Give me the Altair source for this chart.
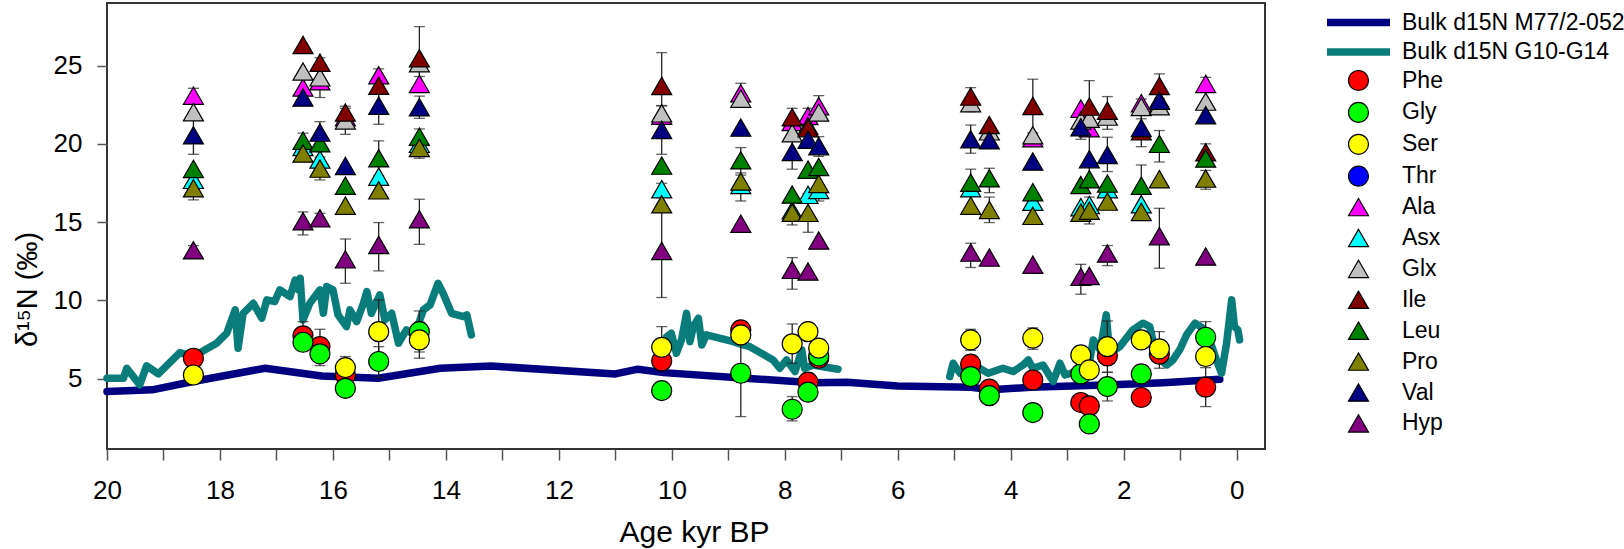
import altair as alt
import pandas as pd

FONT = "Liberation Sans"

# ---------------- amino acid legend definitions ----------------
AA_NAMES = ["Phe", "Gly", "Ser", "Thr", "Ala", "Asx", "Glx", "Ile", "Leu", "Pro", "Val", "Hyp"]
AA_COLORS = ["#ff0000", "#00ff00", "#ffff00", "#0000ff", "#ff00ff", "#00ffff",
             "#c0c0c0", "#800000", "#008000", "#808000", "#000080", "#800080"]
AA_SHAPES = ["circle"] * 4 + ["triangle-up"] * 8
AA_OUTLINE = ["black"] * 12

# ---------------- amino acid d15N values (age kyr BP, value) ----------------
PHE = [(18.47, 6.3), (16.53, 7.73), (16.23, 7.04), (15.78, 5.23), (10.18, 6.13), (8.78, 8.11),
       (7.59, 4.77), (7.4, 6.3), (4.71, 5.92), (4.38, 4.32), (3.61, 4.91), (2.76, 3.47),
       (2.61, 3.25), (2.29, 6.45), (1.69, 3.79), (1.37, 6.56), (0.55, 4.45)]
GLY = [(16.53, 7.32), (16.23, 6.58), (15.78, 4.38), (15.19, 6.09), (14.47, 8.0), (10.18, 4.23),
       (8.78, 5.34), (7.87, 3.04), (7.59, 4.13), (7.4, 6.45), (4.71, 5.13), (4.38, 3.91),
       (3.61, 2.83), (2.76, 5.3), (2.61, 2.1), (2.29, 4.49), (1.69, 5.3), (0.55, 7.64)]
SER = [(18.47, 5.23), (15.78, 5.7), (15.19, 8.0), (14.47, 7.47), (10.18, 7.0), (8.78, 7.79),
       (7.87, 7.22), (7.59, 8.0), (7.4, 6.94), (4.71, 7.47), (3.61, 7.58), (2.76, 6.51),
       (2.61, 5.55), (2.29, 7.04), (1.69, 7.47), (1.37, 6.9), (0.55, 6.41)]
THR = []
ALA = [(18.47, 23.08), (16.53, 23.6), (16.23, 24.0), (15.78, 21.7), (15.19, 24.38), (14.47, 23.83),
       (10.18, 21.8), (8.78, 23.23), (7.87, 21.4), (7.59, 21.78), (7.4, 22.4), (3.61, 20.36),
       (2.76, 22.25), (2.61, 21.0), (1.69, 22.6), (1.37, 22.8), (0.55, 23.83)]
ASX = [(18.47, 17.7), (16.53, 19.8), (16.23, 19.0), (15.19, 17.9), (14.47, 20.0), (10.18, 17.1),
       (8.78, 17.37), (7.87, 15.75), (7.59, 16.74), (7.4, 17.05), (4.71, 17.16), (3.61, 16.3),
       (2.76, 15.95), (2.61, 16.1), (2.29, 17.1), (1.69, 16.14)]
GLX = [(18.47, 22.02), (16.53, 24.62), (16.23, 24.25), (15.78, 21.5), (14.47, 25.15), (10.18, 21.95),
       (8.78, 22.89), (7.87, 20.68), (7.59, 21.14), (7.4, 22.0), (4.71, 22.6), (4.38, 20.8),
       (3.61, 20.55), (2.76, 21.5), (2.61, 21.6), (2.29, 21.74), (1.69, 22.36), (1.37, 22.4),
       (0.55, 22.7)]
ILE = [(16.53, 26.32), (16.23, 25.19), (15.78, 22.0), (15.19, 23.72), (14.47, 25.47), (10.18, 23.7),
       (7.87, 21.7), (7.59, 21.0), (4.71, 23.02), (4.38, 21.2), (3.61, 22.42), (2.61, 22.38),
       (2.29, 22.12), (1.69, 20.8), (1.37, 23.7), (0.55, 19.46)]
LEU = [(18.47, 18.4), (16.53, 20.2), (16.23, 20.04), (15.78, 17.33), (15.19, 19.08), (14.47, 20.46),
       (10.18, 18.61), (8.78, 18.95), (7.87, 16.76), (7.59, 18.35), (7.4, 18.52), (4.71, 17.52),
       (4.38, 17.8), (3.61, 16.91), (2.76, 17.37), (2.61, 17.74), (2.29, 17.46), (1.69, 17.33),
       (1.37, 20.0), (0.55, 19.06)]
PRO = [(18.47, 17.16), (16.53, 19.38), (16.23, 18.42), (15.78, 16.05), (15.19, 17.03), (14.47, 19.74),
       (10.18, 16.14), (8.78, 17.59), (7.87, 15.6), (7.59, 15.59), (7.4, 17.44), (4.71, 16.05),
       (4.38, 15.78), (3.61, 15.4), (2.76, 15.6), (2.61, 15.73), (2.29, 16.31), (1.69, 15.65),
       (1.37, 17.74), (0.55, 17.78)]
VAL = [(18.47, 20.55), (16.53, 22.96), (16.23, 20.72), (15.78, 18.59), (15.19, 22.44), (14.47, 22.34),
       (10.18, 20.89), (8.78, 21.04), (7.87, 19.48), (7.59, 20.27), (7.4, 19.85), (4.71, 20.29),
       (4.38, 20.23), (3.61, 18.87), (2.76, 21.06), (2.61, 19.02), (2.29, 19.29), (1.69, 21.02),
       (1.37, 22.76), (0.55, 21.83)]
HYP = [(18.47, 13.2), (16.53, 15.05), (16.23, 15.24), (15.78, 12.62), (15.19, 13.54), (14.47, 15.18),
       (10.18, 13.16), (8.78, 14.9), (7.87, 11.95), (7.59, 11.84), (7.4, 13.82), (4.71, 13.05),
       (4.38, 12.73), (3.61, 12.28), (2.76, 11.5), (2.61, 11.56), (2.29, 12.99), (1.37, 14.1),
       (0.55, 12.8)]
AA_DATA = [PHE, GLY, SER, THR, ALA, ASX, GLX, ILE, LEU, PRO, VAL, HYP]

# ---------------- error bars (age, low, high) ----------------
ERRORS = [
    (18.47, 19.33, 21.77), (18.47, 16.42, 17.9), (18.47, 22.6, 23.55), (18.47, 12.9, 13.5),
    (16.53, 14.18, 15.65), (16.53, 19.7, 20.68),
    (16.23, 22.96, 25.5), (16.23, 20.0, 21.42), (16.23, 17.69, 19.15), (16.23, 14.9, 15.56),
    (15.78, 21.73, 22.27), (15.78, 20.61, 22.4), (15.78, 11.09, 13.92),
    (15.19, 23.97, 24.79), (15.19, 21.25, 23.63), (15.19, 17.97, 20.19), (15.19, 11.88, 14.97),
    (14.47, 23.45, 27.49), (14.47, 23.36, 24.3), (14.47, 21.63, 23.05), (14.47, 19.97, 20.95),
    (14.47, 19.08, 20.4), (14.47, 13.58, 16.46),
    (10.18, 21.57, 25.83), (10.18, 21.42, 22.42), (10.18, 19.33, 22.45), (10.18, 16.7, 17.48),
    (10.18, 10.18, 16.14),
    (8.78, 22.38, 23.87), (8.78, 18.14, 19.76), (8.78, 16.35, 18.0),
    (7.87, 21.1, 22.27), (7.87, 18.38, 20.6), (7.87, 10.71, 12.73), (7.87, 14.82, 16.4),
    (7.59, 21.3, 22.27), (7.59, 14.35, 16.8),
    (7.4, 21.7, 23.08), (7.4, 19.2, 20.46), (7.4, 16.35, 18.5),
    (4.71, 22.06, 23.59), (4.71, 19.4, 21.2), (4.71, 16.7, 18.38), (4.71, 12.1, 13.65),
    (4.38, 16.88, 18.44), (4.38, 14.97, 16.6),
    (3.61, 20.7, 24.13),
    (2.76, 10.39, 12.3), (2.76, 20.29, 21.8),
    (2.61, 20.7, 24.04), (2.61, 17.27, 20.8), (2.61, 14.88, 16.6),
    (2.29, 20.93, 23.02), (2.29, 18.23, 20.42), (2.29, 12.22, 13.5),
    (1.69, 21.6, 22.87), (1.69, 19.82, 22.2), (1.69, 16.0, 18.65),
    (1.37, 22.9, 24.47), (1.37, 18.84, 20.85), (1.37, 12.05, 15.88),
    (0.55, 23.4, 24.25), (0.55, 18.9, 20.0), (0.55, 17.1, 18.3),
    (16.53, 6.8, 8.64), (16.23, 5.83, 8.15), (15.78, 5.0, 6.41), (15.19, 5.97, 10.03),
    (15.19, 5.06, 7.04), (14.47, 6.7, 9.32), (14.47, 6.3, 8.6), (10.18, 5.7, 8.32),
    (10.18, 5.55, 6.7), (8.78, 2.57, 8.1), (7.87, 5.98, 8.49), (7.87, 2.3, 3.85),
    (7.59, 4.2, 5.34), (4.71, 6.8, 8.15), (3.61, 6.87, 8.24), (2.29, 5.4, 8.68),
    (2.29, 3.57, 5.4), (1.37, 5.66, 8.0), (0.55, 6.6, 8.64), (0.55, 3.21, 5.7),
]

# ---------------- bulk d15N records ----------------
LINE_NAMES = ["Bulk d15N M77/2-052", "Bulk d15N G10-G14"]
LINE_COLORS = ["#000080", "#0b7c7c"]
M77 = [(20.0, 4.17), (19.2, 4.28), (18.5, 4.8), (17.2, 5.66), (16.2, 5.17), (15.2, 5.02),
       (14.1, 5.66), (13.2, 5.8), (11.0, 5.3), (10.6, 5.6), (10.15, 5.38), (8.7, 5.02),
       (7.5, 4.74), (6.9, 4.77), (6.0, 4.53), (4.7, 4.45), (4.35, 4.28), (3.65, 4.45),
       (2.2, 4.6), (1.3, 4.74), (0.3, 4.96)]
G10_A = [(20.0, 5.02), (19.71, 5.02), (19.65, 5.66), (19.42, 4.6), (19.30, 5.81), (19.09, 5.3),
         (18.71, 6.66), (18.47, 6.41), (18.06, 7.26), (17.88, 7.9), (17.73, 9.39), (17.68, 6.94),
         (17.59, 9.17), (17.41, 9.81), (17.26, 8.86), (17.17, 10.03), (17.03, 9.92), (16.94, 10.67),
         (16.76, 10.24), (16.67, 11.3), (16.61, 10.67), (16.58, 11.41), (16.53, 8.75), (16.41, 9.81),
         (16.23, 10.67), (16.17, 9.17), (16.11, 10.88), (16.0, 10.67), (15.91, 9.07), (15.76, 8.32),
         (15.70, 9.39), (15.58, 8.64), (15.46, 9.81), (15.40, 10.56), (15.32, 9.17), (15.17, 10.35),
         (15.08, 8.75), (14.96, 9.17), (14.84, 7.26), (14.70, 8.11), (14.55, 7.79), (14.40, 9.39),
         (14.28, 9.71), (14.14, 11.09), (14.05, 10.45), (13.90, 9.17), (13.69, 8.96), (13.63, 9.07),
         (13.55, 7.79)]
G10_B = [(10.09, 7.68), (10.01, 7.9), (9.92, 6.62), (9.83, 7.47), (9.74, 9.17), (9.68, 7.36),
         (9.62, 8.32), (9.53, 8.86), (9.47, 7.15), (9.39, 7.79), (8.91, 7.36), (8.74, 7.15),
         (8.62, 7.04), (8.21, 6.19), (8.09, 5.66), (7.97, 6.19), (7.82, 5.45), (7.70, 6.83),
         (7.65, 5.66), (7.50, 5.87), (7.06, 5.6)]
G10_C = [(5.08, 5.13), (5.02, 5.98), (4.90, 5.34), (4.73, 5.87), (4.61, 5.77), (4.40, 5.34),
         (4.14, 5.66), (3.96, 5.45), (3.78, 5.87), (3.69, 6.19), (3.61, 5.66), (3.43, 5.87),
         (3.25, 4.81), (3.13, 5.98), (3.04, 5.23), (2.93, 5.34), (2.78, 5.66), (2.60, 6.19),
         (2.54, 7.47), (2.42, 6.83), (2.31, 9.07), (2.25, 6.62), (2.07, 7.04), (1.84, 8.11),
         (1.66, 8.54), (1.54, 8.32), (1.42, 6.41), (1.24, 5.87), (1.13, 6.19), (1.01, 6.83),
         (0.89, 7.79), (0.74, 8.54), (0.60, 8.22), (0.51, 7.79), (0.42, 6.83), (0.36, 6.19),
         (0.27, 5.34), (0.18, 7.26), (0.09, 10.03), (0.04, 8.32), (-0.02, 8.11), (-0.05, 7.47)]

# ---------------- tables ----------------
pts_df = pd.DataFrame([{"age": a, "val": v, "aa": n}
                       for n, series in zip(AA_NAMES, AA_DATA) for a, v in series])
line_rows = []
for name, seg, series in [(LINE_NAMES[0], "m77", M77), (LINE_NAMES[1], "g10a", G10_A),
                          (LINE_NAMES[1], "g10b", G10_B), (LINE_NAMES[1], "g10c", G10_C)]:
    for a, v in series:
        line_rows.append({"age": a, "val": v, "series": name, "seg": seg})
line_df = pd.DataFrame(line_rows)
err_df = pd.DataFrame(ERRORS, columns=["age", "lo", "hi"])

# ---------------- scales & axes ----------------
XS = alt.Scale(domain=[-0.5, 20], reverse=True, nice=False, zero=False)
YS = alt.Scale(domain=[0.5, 29], nice=False, zero=False)
XAXIS = alt.Axis(values=list(range(0, 21)),
                 labelExpr="datum.value % 2 == 0 ? datum.label : ''",
                 tickSize=11, tickWidth=1.5, tickColor="#555555", domain=False, grid=False,
                 labelFont=FONT, labelFontSize=26, labelColor="black", labelPadding=17,
                 labelFlush=False, labelOverlap=False,
                 titleFont=FONT, titleFontSize=30, titleFontWeight="normal", titleColor="black",
                 titleX=587, titleY=92, titleBaseline="alphabetic", titleAlign="center")
YAXIS = alt.Axis(values=[5, 10, 15, 20, 25],
                 tickSize=10, tickWidth=1.5, tickColor="#555555", domain=False, grid=False,
                 labelFont=FONT, labelFontSize=26, labelColor="black", labelPadding=15,
                 titleFont=FONT, titleFontSize=29, titleFontWeight="normal", titleColor="black",
                 titleX=-80, titleY=286, titleBaseline="middle", titleAlign="center")
XT = "Age kyr BP"
YT = "δ¹⁵N (‰)"


def xenc():
    return alt.X("age:Q", scale=XS, axis=XAXIS, title=XT)


def yenc(field):
    return alt.Y(field + ":Q", scale=YS, axis=YAXIS, title=YT)


line_legend = alt.Legend(orient="none", legendX=1240, legendY=8, title=None, direction="vertical",
                         padding=0, labelFont=FONT, labelFontSize=23, labelColor="black",
                         labelLimit=400,
                         symbolType="M-4.5,0H4.5", symbolSize=196, symbolStrokeWidth=7.5,
                         labelOffset=32, rowPadding=-1.5)
pt_legend = alt.Legend(orient="none", legendX=1240, legendY=66, title=None, direction="vertical",
                       padding=0, labelFont=FONT, labelFontSize=23, labelColor="black",
                       labelLimit=400,
                       symbolSize=400, symbolStrokeWidth=1.2, symbolStrokeColor="black",
                       labelOffset=32, rowPadding=6.9)

lines = alt.Chart(line_df).mark_line(strokeWidth=7.5, strokeCap="round", strokeJoin="round").encode(
    x=xenc(), y=yenc("val"),
    stroke=alt.Stroke("series:N", scale=alt.Scale(domain=LINE_NAMES, range=LINE_COLORS),
                      legend=line_legend),
    detail="seg:N",
)

rules = alt.Chart(err_df).mark_rule(color="#222222", strokeWidth=1.3).encode(
    x=xenc(), y=yenc("lo"), y2="hi:Q")

caps = alt.Chart(err_df).transform_fold(["lo", "hi"], as_=["end", "cap"]).mark_tick(
    orient="horizontal", size=11, thickness=1.3, color="#222222").encode(
    x=xenc(), y=yenc("cap"))

points = alt.Chart(pts_df).mark_point(filled=True, size=400, opacity=1, strokeWidth=1.2).encode(
    x=xenc(), y=yenc("val"),
    fill=alt.Fill("aa:N", scale=alt.Scale(domain=AA_NAMES, range=AA_COLORS), legend=pt_legend),
    shape=alt.Shape("aa:N", scale=alt.Scale(domain=AA_NAMES, range=AA_SHAPES), legend=pt_legend),
    stroke=alt.Stroke("aa:N", scale=alt.Scale(domain=AA_NAMES, range=AA_OUTLINE), legend=pt_legend),
)

chart = alt.layer(lines, rules, caps, points).resolve_scale(
    stroke="independent", fill="independent", shape="independent"
).properties(
    width=1158, height=446,
    padding={"left": 107, "top": 3, "right": 359, "bottom": 100},
    autosize=alt.AutoSizeParams(type="none"),
    background="white",
).configure_view(stroke="#333333", strokeWidth=2)

chart.save("out.html", embed_options={"renderer": "svg", "actions": False})
